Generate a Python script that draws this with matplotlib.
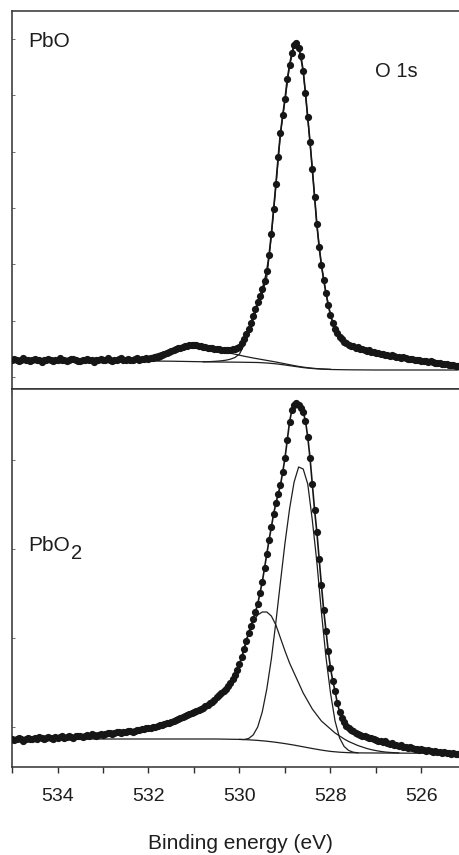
import numpy as np
import matplotlib
matplotlib.use("Agg")
import matplotlib.pyplot as plt
from matplotlib.ticker import FixedLocator, FuncFormatter

plt.rcParams['font.family'] = ['Liberation Sans', 'DejaVu Sans']

# ---------------- DATA (binding energy in eV, intensity in arb. units) ----------------
STEP = 0.05  # data point spacing (eV)

# PbO O 1s spectrum, segments starting at the given energies, 0.05 eV steps
pbo_starts = [535.0, 532.0, 531.0, 530.0, 529.0, 528.0, 527.0]
pbo_535 = [29,30,29,28,29,31,29,29,28,29, 30,29,29,27,29,29,30,29,28,29,
           29,31,29,29,28,29,30,30,29,28, 28,29,29,30,29,29,27,29,29,30,
           29,29,31,29,28,29,29,30,31,29, 29,30,29,29,30,31,29,30,30,31]
pbo_532 = [30,31,31,32,32,33,34,35,36,37, 38,39,40,41,41,42,43,43,44,44]
pbo_531 = [44,44,43,43,42,42,41,41,41,40, 40,40,39,39,39,39,39,40,40,41]
pbo_530 = [42,46,50,55,60,66,73,80,87,93, 100,108,118,134,155,180,205,232,256,274]
pbo_529 = [290,310,324,336,344,346,341,333,318,296, 272,247,220,192,165,142,124,109,96,84]
pbo_528 = [74,66,60,56,52,50,47,46,44,43, 43,41,42,40,40,39,38,39,37,37]
pbo_527 = [36,36,35,35,34,34,33,34,33,32, 32,31,32,31,30,30,30,29,29,29,
           28,28,28,27,28,27,26,26,26,25, 25,25,24,24,24,23,23]

# PbO fit: background, high-BE component, main component
pbo_bg_e = [535.0, 532.0, 531.5, 531.0, 530.5, 530.0, 529.6, 529.4, 529.2, 529.0,
            528.8, 528.6, 528.4, 528.2, 528.0, 527.6, 527.0, 525.2]
pbo_bg_v = [28, 28, 27.8, 27.4, 27.0, 26.8, 26.5, 26.0, 25.2, 24.0,
            22.7, 21.4, 20.5, 19.9, 19.5, 19.2, 19.0, 19.0]
pbo_c1_start = 532.6  # 0.1 eV steps
pbo_c1_v = [28.2,28.5,28.9,29.5,30.3,31.3,32.5,33.8,35.2,36.6,
            38.0,39.3,40.5,41.5,42.2,42.6,42.7,42.4,41.8,41.0,
            40.0,39.0,38.0,36.9,35.8,34.8,33.8,32.8,31.9,31.0,
            30.2,29.4,28.6,27.8,27.0,26.1,25.2,24.3,23.4,22.6,
            21.9,21.3,20.8,20.4,20.1,19.9,19.7]
pbo_c2_start = 530.8  # 0.1 eV steps
pbo_c2_v = [27.2,27.3,27.5,27.8,28.2,28.8,29.8,31.5,35,44,
            55,69,83,95,112,153,203,255,289,323,
            343,341,318,271,221,164,124,96,74,60,
            52,47,44,42,40,39,38,37,36,35,
            34,33,33,32,31,30,29,29,28,27,
            27,26,25,25,24,24,23]

# PbO2 O 1s spectrum, 0.05 eV steps
pbo2_starts = [535.0, 532.0, 531.0, 530.0, 529.0, 528.0, 527.0]
pbo2_535 = [28,27,28,29,28,26,28,29,28,28, 29,28,30,29,28,29,30,29,28,30,
            29,30,31,29,30,31,30,29,31,31, 31,30,31,32,31,33,32,31,32,33,
            32,33,34,34,33,34,35,35,34,35, 35,36,36,35,36,37,37,38,38,39]
pbo2_532 = [39,39,40,40,41,42,42,43,44,44, 45,46,47,48,49,50,51,52,53,54]
pbo2_531 = [55,56,57,58,59,61,62,64,65,67, 70,72,74,76,78,81,84,88,92,97]
pbo2_530 = [103,110,118,126,134,141,148,155,163,174, 185,199,213,227,240,253,264,273,282,295]
pbo2_529 = [309,327,345,357,362,364,362,359,355,346, 330,309,283,257,235,208,182,157,136,116]
pbo2_528 = [99,86,76,64,55,49,45,41,39,37, 36,34,33,32,31,31,30,29,29,28]
pbo2_527 = [27,26,26,25,26,24,23,24,22,22, 21,22,20,20,19,20,19,18,18,17,
            18,17,16,17,16,15,16,15,15,14, 15,14,14,13,14,13,13]

# PbO2 fit: background, broad component, narrow component
pbo2_bg_e = [535.0, 530.5, 530.0, 529.8, 529.6, 529.4, 529.2, 529.0, 528.8, 528.6,
             528.4, 528.2, 528.0, 527.8, 527.6, 527.4, 527.0, 525.2]
pbo2_bg_v = [28, 28, 27.6, 27.2, 26.6, 25.8, 24.7, 23.4, 21.9, 20.2,
             18.5, 16.9, 15.6, 14.8, 14.3, 14.1, 14.0, 13.6]
pbo2_c1_start = 531.0  # 0.1 eV steps
pbo2_c1_v = [55,57,59,62,65,70,74,78,84,92,
             103,118,134,146,152,155,155,151,142,129,
             116,104,94,84,74,66,58,52,46,42,
             38,34,31,28,25.5,23.5,21.5,20,18.5,17.3,
             16.4,15.6,15,14.6,14.3,14.1]
pbo2_c2_start = 530.0  # 0.1 eV steps
pbo2_c2_v = [27.6,27.5,28.5,32,40,55,78,108,145,185,
             224,258,285,300,298,283,247,205,155,110,
             74,46,29,20.5,16.5,14.8,14.2]

x_ticks = [535, 534, 533, 532, 531, 530, 529, 528, 527, 526]
x_labels_shown = [534, 532, 530, 528, 526]
pbo_yticks = [12, 68.3, 124.6, 180.9, 237.2, 293.5, 349.8]
pbo2_yticks = [40, 129, 218, 307]

# ---------------- helpers ----------------
def seg_energies(starts, segs, step):
    return np.concatenate([s - step * np.arange(len(v)) for s, v in zip(starts, segs)])

def comp_energies(start, vals, step=0.1):
    return start - step * np.arange(len(vals))

pbo_e = seg_energies(pbo_starts, [pbo_535, pbo_532, pbo_531, pbo_530, pbo_529, pbo_528, pbo_527], STEP)
pbo_v = np.concatenate([pbo_535, pbo_532, pbo_531, pbo_530, pbo_529, pbo_528, pbo_527])
pbo2_e = seg_energies(pbo2_starts, [pbo2_535, pbo2_532, pbo2_531, pbo2_530, pbo2_529, pbo2_528, pbo2_527], STEP)
pbo2_v = np.concatenate([pbo2_535, pbo2_532, pbo2_531, pbo2_530, pbo2_529, pbo2_528, pbo2_527])

# ---------------- figure ----------------
W, H = 459, 855
fig = plt.figure(figsize=(W / 100, H / 100), dpi=100)
ax1 = fig.add_axes([12 / W, (H - 389) / H, (W - 12) / W, 378 / H])
ax2 = fig.add_axes([12 / W, (H - 767) / H, (W - 12) / W, 378 / H])

dark = '#161616'
line_c = '#1e1e1e'

def style(ax, yt, labels):
    ax.set_xlim(535, 535 - (W - 12) / 45.5)
    ax.set_ylim(0, 378)
    for sp in ['left', 'top', 'bottom']:
        ax.spines[sp].set_linewidth(1.1)
        ax.spines[sp].set_color('#303030')
    ax.spines['right'].set_visible(False)
    ax.xaxis.set_major_locator(FixedLocator(x_ticks))
    ax.xaxis.set_major_formatter(FuncFormatter(
        lambda v, p: f"{int(round(v))}" if (labels and int(round(v)) in x_labels_shown) else ""))
    ax.tick_params(axis='x', direction='out', length=4, width=1.0, color='#303030',
                   labelsize=14, pad=11, labelcolor='#1e1e1e', top=False)
    ax.yaxis.set_major_locator(FixedLocator(yt))
    ax.tick_params(axis='y', direction='in', length=2, width=0.6, color='#555555',
                   labelleft=False, right=False)

style(ax1, pbo_yticks, False)
style(ax2, pbo2_yticks, True)

# PbO panel
ax1.plot(pbo_bg_e, pbo_bg_v, color=line_c, lw=0.9, zorder=2)
ax1.plot(comp_energies(pbo_c1_start, pbo_c1_v), pbo_c1_v, color=line_c, lw=0.9, zorder=2)
ax1.plot(comp_energies(pbo_c2_start, pbo_c2_v), pbo_c2_v, color=line_c, lw=0.9, zorder=2)
ax1.plot(pbo_e, pbo_v, '-o', color=dark, lw=1.2, ms=5.2, mew=0, zorder=3)

# PbO2 panel
ax2.plot(pbo2_bg_e, pbo2_bg_v, color=line_c, lw=0.9, zorder=2)
ax2.plot(comp_energies(pbo2_c1_start, pbo2_c1_v), pbo2_c1_v, color=line_c, lw=0.9, zorder=2)
ax2.plot(comp_energies(pbo2_c2_start, pbo2_c2_v), pbo2_c2_v, color=line_c, lw=0.9, zorder=2)
ax2.plot(pbo2_e, pbo2_v, '-o', color=dark, lw=1.2, ms=5.2, mew=0, zorder=3)

# texts
tc = '#1e1e1e'
fig.text(28 / W, 1 - 47 / H, 'PbO', fontsize=15, color=tc, ha='left', va='baseline')
fig.text(375 / W, 1 - 77 / H, 'O 1s', fontsize=14.5, color=tc, ha='left', va='baseline')
fig.text(28 / W, 1 - 551 / H, 'PbO', fontsize=15, color=tc, ha='left', va='baseline')
fig.text(71 / W, 1 - 559 / H, '2', fontsize=14.5, color=tc, ha='left', va='baseline')
fig.text(240 / W, 1 - 843 / H, 'Binding energy (eV)', fontsize=15, color=tc,
         ha='center', va='center')

fig.savefig('out.png', dpi=100)
